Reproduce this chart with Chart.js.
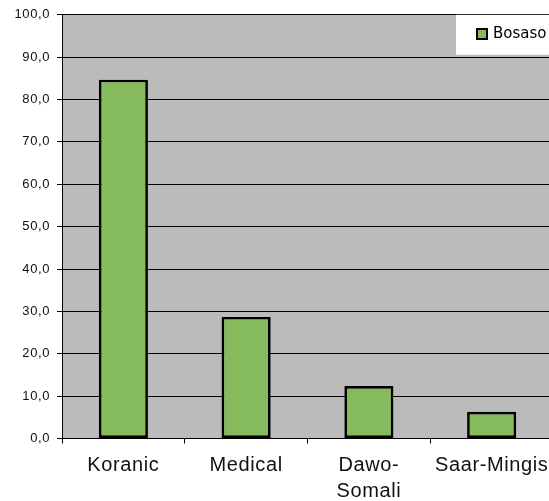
<!DOCTYPE html>
<html>
<head>
<meta charset="utf-8">
<script src="https://cdn.jsdelivr.net/npm/chart.js@4/dist/chart.umd.min.js"></script>
<style>
  html, body { margin: 0; padding: 0; background: #ffffff; overflow: hidden; }
  #wrap { position: relative; width: 554px; height: 501px; }
</style>
</head>
<body>
<div id="wrap"><canvas id="chart" width="554" height="501"></canvas></div>
<script>
// Categories and values (percent)
const categories = ['Koranic', 'Medical', ['Dawo-', 'Somali'], 'Saar-Mingis'];
const seriesName = 'Bosaso';
const bosasoValues = [84.7, 28.7, 12.4, 6.3];
const yTickMax = 100;
const yTickStep = 10;

const plotGray = '#bbbbbb';
const barGreen = '#85bb5c';

// Gray plot background
const plotBackground = {
  id: 'plotBackground',
  beforeDraw(chart) {
    const { ctx, chartArea } = chart;
    ctx.save();
    ctx.fillStyle = plotGray;
    ctx.fillRect(chartArea.left, chartArea.top, chartArea.right - chartArea.left, chartArea.bottom - chartArea.top);
    ctx.restore();
  }
};

// Legend box sitting in the top-right corner of the plot
const cornerLegend = {
  id: 'cornerLegend',
  afterDraw(chart) {
    const { ctx, chartArea } = chart;
    const ds = chart.data.datasets[0];
    const x0 = 456, y0 = chartArea.top;
    ctx.save();
    ctx.letterSpacing = '0px';
    ctx.fillStyle = '#ffffff';
    ctx.fillRect(x0, y0, chart.width - x0, 40);
    ctx.fillStyle = ds.backgroundColor;
    ctx.fillRect(477, 29, 10, 10);
    ctx.strokeStyle = '#000000';
    ctx.lineWidth = 2;
    ctx.strokeRect(477, 29, 10, 10);
    ctx.fillStyle = '#000000';
    ctx.font = '15px "DejaVu Sans"';
    ctx.textBaseline = 'middle';
    ctx.textAlign = 'left';
    ctx.fillText(ds.label, 493, 34);
    ctx.restore();
  }
};

// Slightly wider letter spacing for the axis labels
const spacing = {
  id: 'spacing',
  beforeDraw(chart) { chart.ctx.letterSpacing = '0.6px'; }
};

new Chart(document.getElementById('chart'), {
  type: 'bar',
  data: {
    labels: categories,
    datasets: [{
      label: seriesName,
      data: bosasoValues,
      backgroundColor: barGreen,
      borderColor: '#000000',
      borderWidth: 2.7,
      borderSkipped: false,
      categoryPercentage: 1.0,
      barPercentage: 0.4
    }]
  },
  options: {
    responsive: false,
    animation: false,
    events: [],
    layout: { padding: { top: 14, right: 0, left: 0, bottom: 0 } },
    plugins: {
      legend: { display: false },
      tooltip: { enabled: false }
    },
    scales: {
      x: {
        grid: {
          display: true,
          drawOnChartArea: false,
          drawTicks: true,
          tickLength: 5,
          color: '#000000',
          lineWidth: 1
        },
        border: { display: true, color: '#000000', width: 1 },
        ticks: {
          color: '#111111',
          font: { family: '"Liberation Sans", Arial, sans-serif', size: 20, lineHeight: 1.3 },
          padding: 9,
          maxRotation: 0,
          autoSkip: false
        },
        afterFit(scale) { scale.height = 62.5; }
      },
      y: {
        min: 0,
        max: yTickMax,
        grid: {
          color: '#000000',
          lineWidth: 1,
          tickLength: 5,
          drawTicks: true
        },
        border: { display: true, color: '#000000', width: 1 },
        ticks: {
          stepSize: yTickStep,
          color: '#111111',
          font: { family: '"Liberation Sans", Arial, sans-serif', size: 13 },
          padding: 7,
          callback: (v) => v.toFixed(1).replace('.', ',')
        },
        afterFit(scale) { scale.width = 62; }
      }
    }
  },
  plugins: [spacing, plotBackground, cornerLegend]
});
</script>
</body>
</html>
